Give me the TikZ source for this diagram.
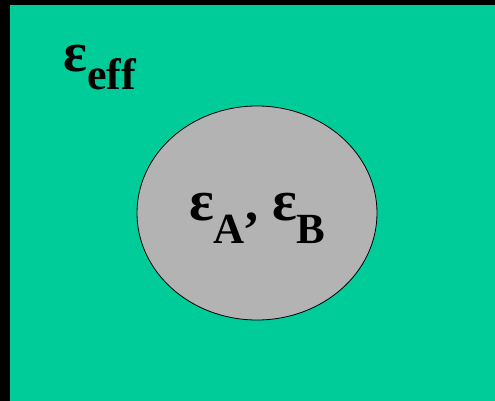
\documentclass[tikz,border=0pt]{standalone}
\usepackage{fontspec}
\setmainfont{Liberation Serif}
\usepackage{tikz}
\usetikzlibrary{shapes.geometric}
\definecolor{hostgreen}{RGB}{0,204,153}
\definecolor{inclgray}{RGB}{179,179,179}
\newcommand{\epssub}[4]{{\fontsize{#1}{#1}\selectfont ε}{\fontsize{#2}{#2}\selectfont\raisebox{-#3pt}{#4}}}
\begin{document}
\begin{tikzpicture}[x=1pt,y=-1pt,
  incl/.style={draw=black,fill=inclgray,ellipse,inner sep=0pt,minimum width=240pt,minimum height=214pt,line width=0.8pt},
  lbl/.style={inner sep=0pt,anchor=base west,font=\bfseries}]
\useasboundingbox (0,0) rectangle (495,401);
\fill[black] (0,0) rectangle (495,401);
\fill[hostgreen] (10,5) rectangle (495,401);
\node[incl] (grain) at (257,213) {};
\node[lbl] (eff) at (63,72) {\epssub{56}{44}{18}{eff}};
\node[lbl] (ab) at (189,220) {\epssub{58}{43}{23}{A}{\fontsize{52}{52}\selectfont,\hspace{14pt}}\epssub{58}{43}{23}{B}};
\end{tikzpicture}
\end{document}
